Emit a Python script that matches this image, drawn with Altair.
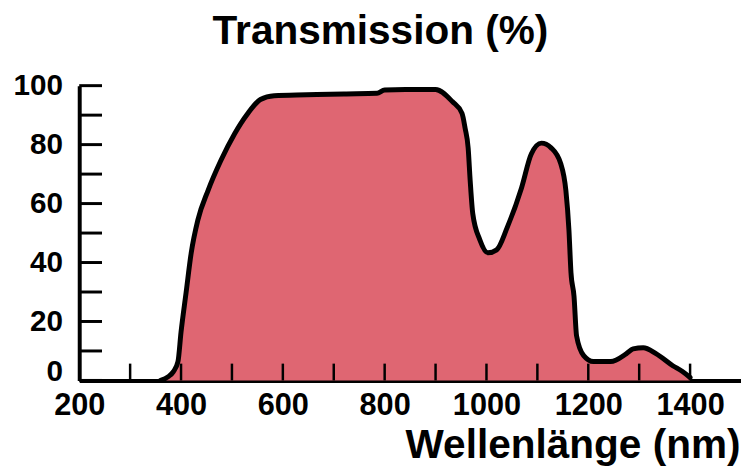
import altair as alt
import pandas as pd

# Transmission curve
wavelength = [360, 375, 385, 394, 400, 410, 420, 433, 453, 478, 505, 530, 556, 583,
              647, 720, 785, 800, 841, 900, 933, 952, 958, 964, 968, 973, 987, 1003,
              1020, 1041, 1069, 1088, 1108, 1127, 1146, 1156, 1162, 1166, 1172,
              1177, 1191, 1210, 1244, 1275, 1288, 1308, 1333, 1366, 1385, 1400]
transmission = [0, 1.3, 3.0, 6.4, 16.4, 29.9, 43.3, 54.4, 64.4, 74.5, 83.6, 90.3, 95.3, 96.6,
                96.9, 97.2, 97.4, 98.5, 98.7, 98.7, 94.6, 90.6, 85.6, 78.9, 67.8, 56.7, 47.7, 43.3,
                44.3, 52.0, 65.4, 76.8, 80.5, 78.9, 73.5, 64.4, 51.0, 36.6, 28.5,
                15.1, 8.4, 6.4, 6.4, 9.1, 10.7, 11.1, 9.1, 5.0, 3.0, 1.0]

x_tick_values = [300, 400, 500, 600, 700, 800, 900, 1000, 1100, 1200, 1300, 1400]
x_label_values = [200, 400, 600, 800, 1000, 1200, 1400]
y_tick_values = [0, 10, 20, 30, 40, 50, 60, 70, 80, 90, 100]
y_label_values = [0, 20, 40, 60, 80, 100]

TITLE = "Transmission (%)"
X_TITLE = "Wellenlänge (nm)"

FONT = "Liberation Sans"
FILL = "#df6672"
W, H = 669, 298

df = pd.DataFrame({"nm": wavelength, "T": transmission})
xt = pd.DataFrame({"nm": x_tick_values})
yt = pd.DataFrame({"T": y_tick_values})

xscale = alt.Scale(domain=[200, 1500], nice=False, zero=False)
yscale = alt.Scale(domain=[0, 100], nice=False)

x_axis = alt.Axis(values=x_label_values, format="d", title=X_TITLE, ticks=False, grid=False,
                  domainColor="black", domainWidth=4,
                  labelFont=FONT, labelFontWeight="bold", labelFontSize=31,
                  labelColor="black", labelPadding=10, labelFlush=False,
                  labelOverlap=False,
                  titleFont=FONT, titleFontWeight="bold", titleFontSize=41,
                  titleColor="black", titleX=W - 1, titleY=78,
                  titleAlign="right", titleBaseline="alphabetic")
y_axis = alt.Axis(values=y_label_values, format="d", title="", ticks=False, grid=False,
                  domainColor="black", domainWidth=4,
                  labelFont=FONT, labelFontWeight="bold", labelFontSize=30,
                  labelColor="black", labelPadding=17, labelFlush=False,
                  labelOverlap=False,
                  labelOffset={"condition": {"test": "datum.value === 0", "value": -9},
                               "value": 0})

x_enc = alt.X("nm:Q", scale=xscale, axis=x_axis)
y_enc = alt.Y("T:Q", scale=yscale, axis=y_axis)

area = alt.Chart(df).mark_area(color=FILL, interpolate="monotone").encode(x=x_enc, y=y_enc)

line = alt.Chart(df).mark_line(color="black", strokeWidth=5, interpolate="monotone",
                               strokeJoin="round", strokeCap="round").encode(x=x_enc, y=y_enc)

yticks = alt.Chart(yt).mark_rule(color="black", strokeWidth=3).encode(
    y=y_enc,
    x=alt.value(0),
    x2=alt.value(23),
)

xticks = alt.Chart(xt).mark_rule(color="black", strokeWidth=2.5).encode(
    x=x_enc,
    y=alt.value(H),
    y2=alt.value(H - 17),
)

chart = alt.layer(area, line, yticks, xticks).properties(
    width=W,
    height=H,
    autosize=alt.AutoSizeParams(type="none"),
    padding={"left": 72, "top": 76, "right": 0, "bottom": 85},
    title=alt.TitleParams(TITLE, font=FONT, fontWeight="bold", fontSize=41, color="black",
                          anchor="middle", dx=-30, offset=18),
).configure_view(stroke=None)

chart.save("out.html", embed_options={"renderer": "svg", "actions": False})
